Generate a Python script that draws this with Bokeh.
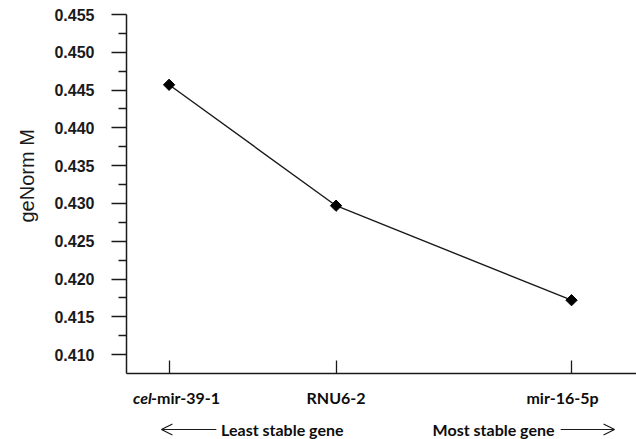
import math
from bokeh.plotting import figure
from bokeh.layouts import column
from bokeh.models import Range1d, FixedTicker, Arrow, OpenHead, ColumnDataSource, Title
from bokeh.core.properties import value
from bokeh.embed import file_html
from bokeh.resources import INLINE

# ---- data ----
genes = ["cel-mir-39-1", "RNU6-2", "mir-16-5p"]
gene_pos = [1.0, 2.0, 3.41]
genorm_m = [0.4457, 0.4297, 0.4172]
y_ticks = [0.410, 0.415, 0.420, 0.425, 0.430, 0.435, 0.440, 0.445, 0.450, 0.455]
y_minor = [0.4125, 0.4175, 0.4225, 0.4275, 0.4325, 0.4375, 0.4425, 0.4475, 0.4525]
y_title = "geNorm M"
least_label = "Least stable gene"
most_label = "Most stable gene"

W = 636
H1 = 386          # main chart
H2 = 439 - H1     # strip with category labels and stability note
LEFT = 125
x0, x1 = 0.745, 3.799
y0, y1 = 0.4075, 0.455
INK = "#1a1a1a"

xr = Range1d(x0, x1)
p = figure(width=W, height=H1, output_backend="svg", toolbar_location=None,
           x_range=xr, y_range=Range1d(y0, y1),
           min_border_left=LEFT, min_border_top=14,
           min_border_bottom=H1 - 373, min_border_right=0)
p.outline_line_color = None
p.xgrid.visible = False
p.ygrid.visible = False
p.background_fill_color = "white"
p.border_fill_color = "white"

src = ColumnDataSource(dict(x=gene_pos, y=genorm_m))
p.line("x", "y", source=src, line_color=INK, line_width=1.4)
p.scatter("x", "y", source=src, marker="square", angle=math.pi / 4, size=8,
          fill_color="black", line_color="black")

# y axis
ya = p.yaxis[0]
ya.ticker = FixedTicker(ticks=y_ticks, minor_ticks=y_minor)
ya.major_label_overrides = {t: f"{t:.3f}" for t in y_ticks}
ya.major_tick_out = 15
ya.major_tick_in = 0
ya.minor_tick_out = 8
ya.minor_tick_in = 0
ya.major_label_standoff = 17
ya.major_label_text_font = "Liberation Sans"
ya.major_label_text_font_style = "bold"
ya.major_label_text_font_size = "16px"
ya.major_label_text_color = INK
ya.axis_line_color = INK
ya.axis_line_width = 1.5
ya.major_tick_line_color = INK
ya.major_tick_line_width = 1.3
ya.minor_tick_line_color = INK
ya.minor_tick_line_width = 1.3

p.add_layout(Title(text=y_title, align="left", offset=151, standoff=27,
                   text_font="Liberation Sans", text_font_style="normal",
                   text_font_size="20px", text_color=INK), "left")

# x axis (labels drawn in the strip below)
xa = p.xaxis[0]
xa.ticker = FixedTicker(ticks=gene_pos, minor_ticks=[])
xa.major_label_overrides = {t: "" for t in gene_pos}
xa.major_label_text_font_size = "1px"
xa.major_label_standoff = 0
xa.major_tick_in = 13
xa.major_tick_out = 0
xa.minor_tick_in = 0
xa.minor_tick_out = 0
xa.axis_line_color = INK
xa.axis_line_width = 1.5
xa.major_tick_line_color = INK
xa.major_tick_line_width = 1.3

# ---- lower strip: y measured in pixels from the top of the strip ----
q = figure(width=W, height=H2, output_backend="svg", toolbar_location=None,
           x_range=xr, y_range=Range1d(H2, 0),
           min_border_left=LEFT, min_border_right=0,
           min_border_top=0, min_border_bottom=0)
q.axis.visible = False
q.grid.visible = False
q.outline_line_color = None
q.background_fill_color = "white"
q.border_fill_color = "white"

FONT = value("Lato")
FS = value("16px")
TXT = "#0d0d0d"
lab_row = 397 - H1
ann_row = 429 - H1

q.text(x=[gene_pos[0]], y=[lab_row], text=["cel"], x_offset=-36,
       text_font=FONT, text_font_style="bold italic", text_font_size=FS,
       text_color=TXT, text_baseline="middle", text_align="left")
q.text(x=[gene_pos[0]], y=[lab_row], text=["-mir-39-1"], x_offset=-18,
       text_font=FONT, text_font_style="bold", text_font_size=FS,
       text_color=TXT, text_baseline="middle", text_align="left")
q.text(x=[gene_pos[1]], y=[lab_row], text=[genes[1]],
       text_font=FONT, text_font_style="bold", text_font_size=FS,
       text_color=TXT, text_baseline="middle", text_align="center")
q.text(x=[gene_pos[2]], y=[lab_row], text=[genes[2]], x_offset=-9,
       text_font=FONT, text_font_style="bold", text_font_size=FS,
       text_color=TXT, text_baseline="middle", text_align="center")

q.text(x=[gene_pos[0]], y=[ann_row], text=[least_label], x_offset=52,
       text_font=FONT, text_font_style="bold", text_font_size=FS,
       text_color=TXT, text_baseline="middle", text_align="left")
q.text(x=[gene_pos[2]], y=[ann_row], text=[most_label], x_offset=-17,
       text_font=FONT, text_font_style="bold", text_font_size=FS,
       text_color=TXT, text_baseline="middle", text_align="right")

def xd(px):
    return x0 + (px - LEFT) / (W - LEFT) * (x1 - x0)

q.add_layout(Arrow(x_start=xd(215), y_start=ann_row, x_end=xd(160), y_end=ann_row,
                   line_color=INK, line_width=1.2,
                   end=OpenHead(size=11, line_color=INK, line_width=1.2)))
q.add_layout(Arrow(x_start=xd(560), y_start=ann_row, x_end=xd(614), y_end=ann_row,
                   line_color=INK, line_width=1.2,
                   end=OpenHead(size=11, line_color=INK, line_width=1.2)))

layout = column(p, q, spacing=0)
open("out.html", "w").write(file_html(layout, INLINE))
